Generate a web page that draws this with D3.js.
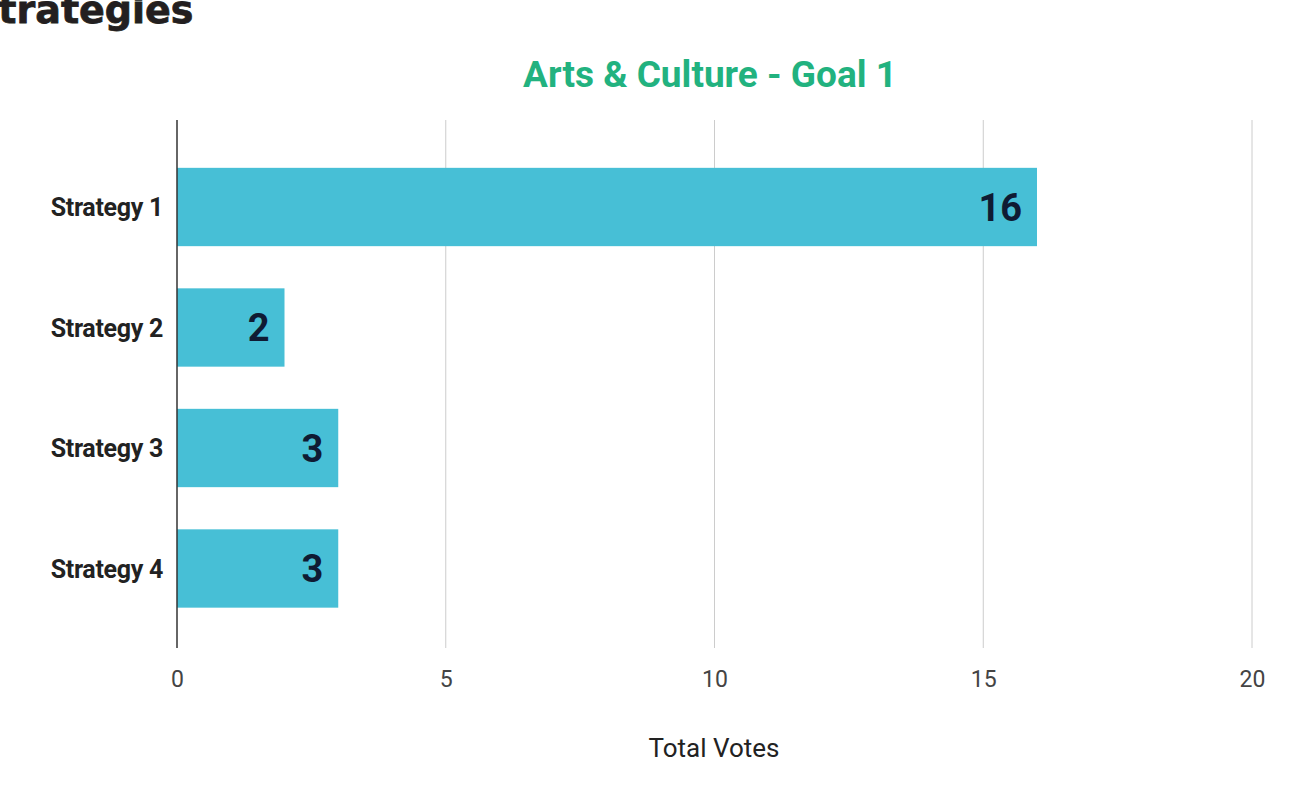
<!DOCTYPE html>
<html>
<head>
<meta charset="utf-8">
<script src="https://cdn.jsdelivr.net/npm/d3@7"></script>
<style>
  html, body { margin: 0; padding: 0; background: #fff; overflow: hidden; }
  svg { display: block; }
</style>
</head>
<body>
<svg id="chart" width="1291" height="793"></svg>
<script>
const categories = ["Strategy 1", "Strategy 2", "Strategy 3", "Strategy 4"];
const votes = [16, 2, 3, 3];
const xTicks = [0, 5, 10, 15, 20];
const pageTitle = "Strategies";
const chartTitle = "Arts & Culture - Goal 1";
const xAxisTitle = "Total Votes";

const svg = d3.select("#chart");

const x = d3.scaleLinear().domain([0, 20]).range([177, 1252]);
const y = d3.scaleBand().domain(categories).range([146.75, 628.75])
  .paddingInner(0.35).paddingOuter(0.175);

// page heading (cut off at left in the reference)
svg.append("text")
  .attr("x", -29).attr("y", 23)
  .attr("font-family", "'DejaVu Sans', sans-serif")
  .attr("font-weight", 700).attr("font-size", 38)
  .attr("stroke", "#231f20").attr("stroke-width", 0.8)
  .attr("fill", "#231f20")
  .text(pageTitle);

// chart title
svg.append("text")
  .attr("x", 710).attr("y", 87)
  .attr("text-anchor", "middle")
  .attr("font-family", "Roboto, sans-serif")
  .attr("font-weight", 700).attr("font-size", 37)
  .attr("fill", "#22b27f")
  .text(chartTitle);

// gridlines
svg.append("g").selectAll("line").data(xTicks.filter(d => d !== 0)).join("line")
  .attr("x1", d => x(d)).attr("x2", d => x(d))
  .attr("y1", 120).attr("y2", 648)
  .attr("stroke", "#cccccc").attr("stroke-width", 1);

// bars
svg.append("g").selectAll("rect").data(categories).join("rect")
  .attr("x", x(0))
  .attr("y", d => y(d))
  .attr("width", (d, i) => x(votes[i]) - x(0))
  .attr("height", y.bandwidth())
  .attr("fill", "#47bfd6");

// value labels
svg.append("g").selectAll("text").data(categories).join("text")
  .attr("x", (d, i) => x(votes[i]) - 15)
  .attr("y", d => y(d) + y.bandwidth() / 2)
  .attr("dy", "0.36em")
  .attr("text-anchor", "end")
  .attr("font-family", "Roboto, sans-serif")
  .attr("font-weight", 700).attr("font-size", 38)
  .attr("fill", "#0f1b33")
  .text((d, i) => votes[i]);

// y axis line
svg.append("line")
  .attr("x1", x(0)).attr("x2", x(0))
  .attr("y1", 120).attr("y2", 648)
  .attr("stroke", "#333").attr("stroke-width", 1.5);

// category labels
svg.append("g").selectAll("text").data(categories).join("text")
  .attr("x", 163)
  .attr("y", d => y(d) + y.bandwidth() / 2)
  .attr("dy", "0.36em")
  .attr("text-anchor", "end")
  .attr("font-family", "Roboto, sans-serif")
  .attr("font-weight", 700).attr("font-size", 25)
  .attr("letter-spacing", "-0.3")
  .attr("fill", "#222")
  .text(d => d);

// x tick labels
const xAxis = d3.axisBottom(x).tickValues(xTicks).tickSize(0).tickPadding(0);
const gx = svg.append("g").attr("transform", "translate(0,687)").call(xAxis);
gx.select(".domain").remove();
gx.selectAll("text")
  .attr("font-family", "Roboto, sans-serif")
  .attr("font-size", 23)
  .attr("fill", "#444")
  .attr("dy", "0")
  .attr("y", 0);

// x axis title
svg.append("text")
  .attr("x", 714).attr("y", 757)
  .attr("text-anchor", "middle")
  .attr("font-family", "Roboto, sans-serif")
  .attr("font-size", 26)
  .attr("fill", "#222")
  .text(xAxisTitle);
</script>
</body>
</html>
